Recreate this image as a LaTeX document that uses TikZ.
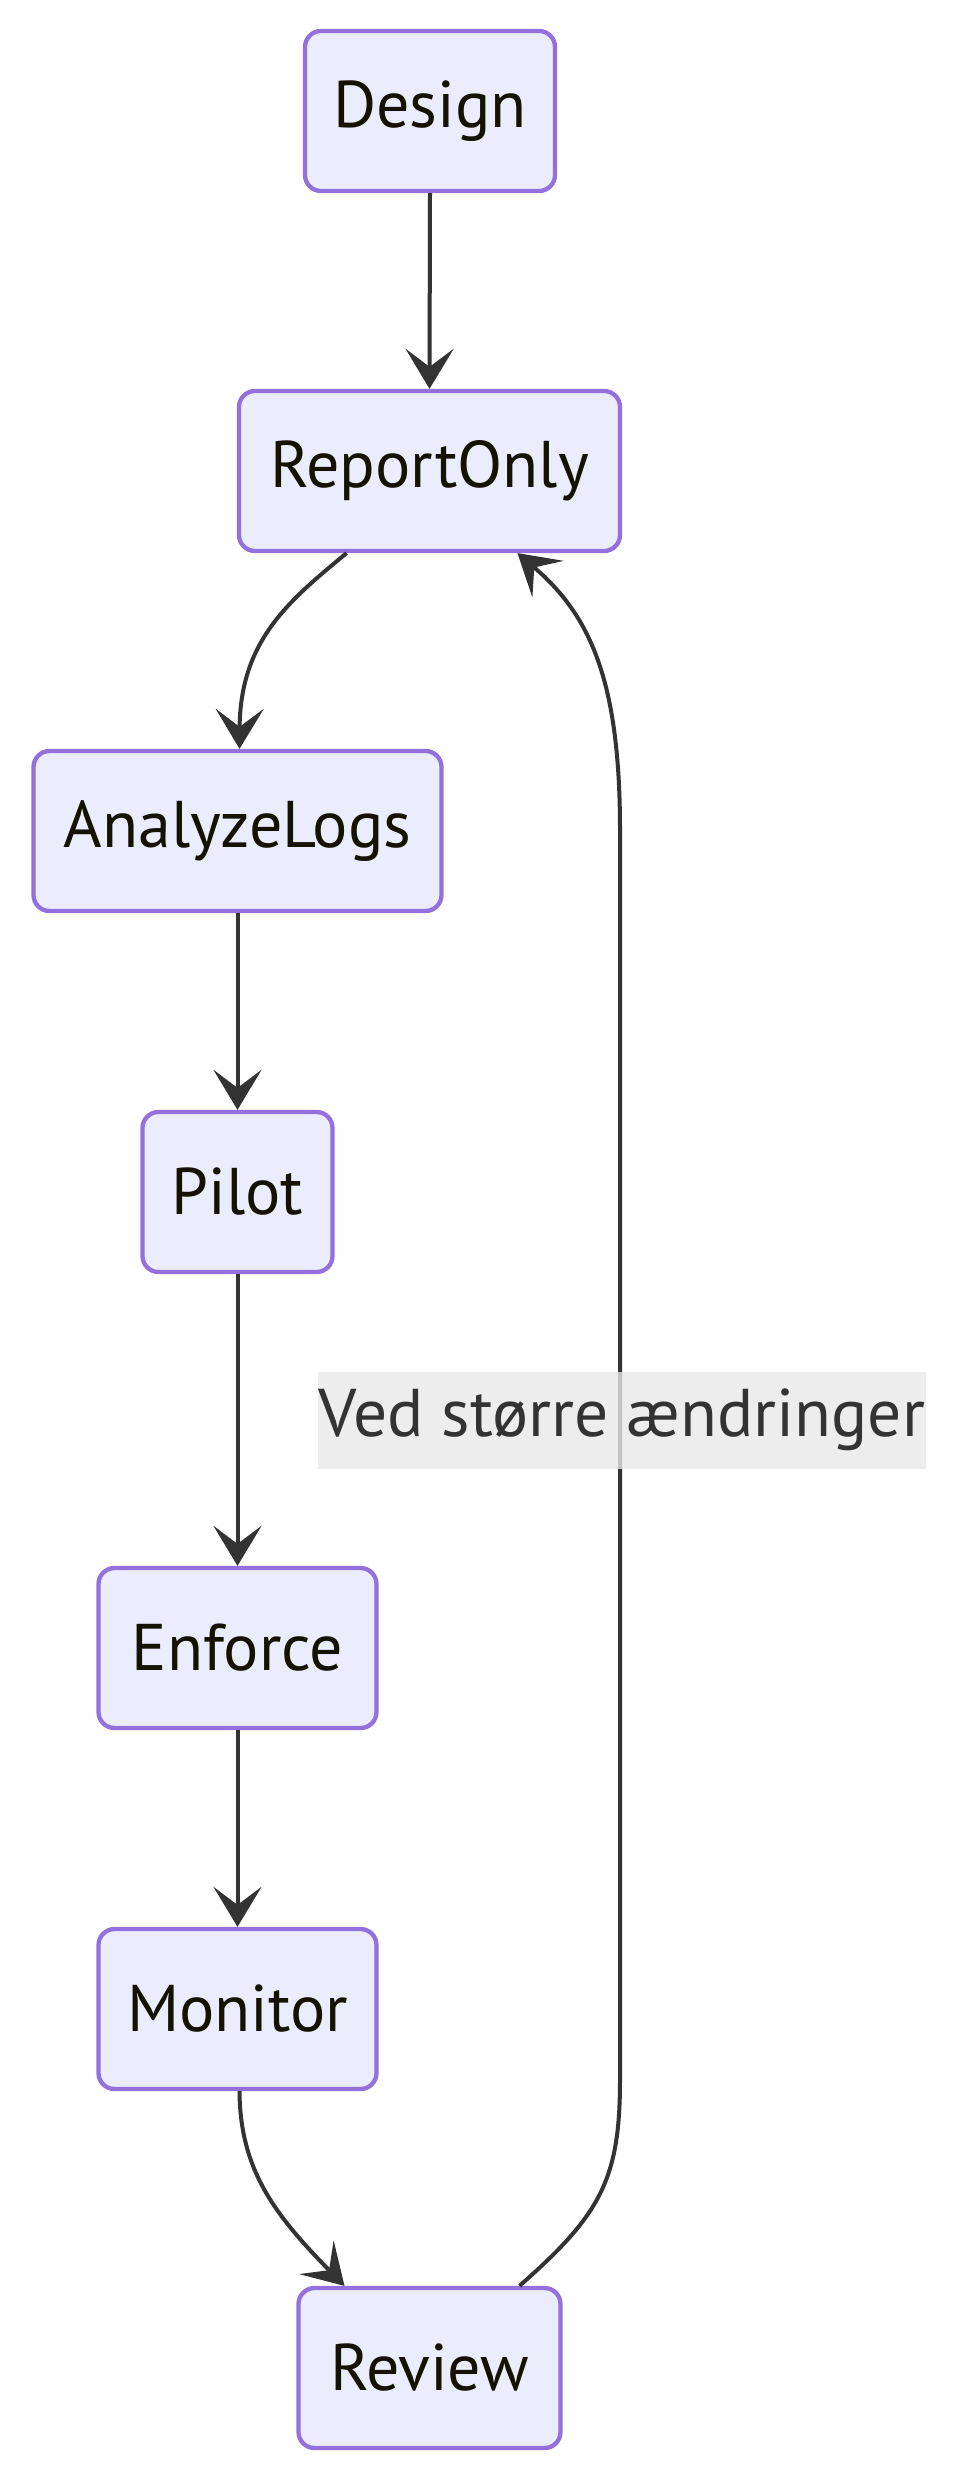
\documentclass[tikz,border=0pt]{standalone}
\usepackage{fontspec}
\setmainfont{PT Sans}
\usetikzlibrary{arrows.meta,calc}
\definecolor{boxfill}{HTML}{ECECFF}
\definecolor{boxline}{HTML}{9370DB}
\definecolor{edgecol}{HTML}{333333}
\definecolor{txtcol}{HTML}{131300}
\definecolor{lblbg}{HTML}{E8E8E8}
\tikzset{
  box/.style={draw=boxline, fill=boxfill, line width=4.3pt, rounded corners=16pt,
    minimum height=160pt, inner sep=0pt, text=txtcol,
    font=\fontsize{66}{74}\selectfont},
  conn/.style={draw=edgecol, line width=4pt,
    -{Stealth[length=40pt, width=48pt, inset=18pt]}},
  lbl/.style={fill=lblbg, fill opacity=0.8, text opacity=1, text=edgecol,
    minimum height=97pt, minimum width=608pt, inner sep=0pt,
    font=\fontsize{67.5}{76}\selectfont},
}
\begin{document}
\begin{tikzpicture}[x=1pt,y=-1pt]
\useasboundingbox (0,0) rectangle (959,2480);
\node[box, minimum width=250pt] (design) at (430,111) {Design};
\node[box, minimum width=381pt] (ro) at (429.5,471) {ReportOnly};
\node[box, minimum width=408pt] (al) at (237.5,831) {AnalyzeLogs};
\node[box, minimum width=190pt] (pilot) at (237.5,1192) {Pilot};
\node[box, minimum width=278pt] (enf) at (237.5,1648) {Enforce};
\node[box, minimum width=278pt] (mon) at (237.5,2009) {Monitor};
\node[box, minimum width=262pt] (rev) at (429.5,2368) {Review};

\draw[conn] (design.south) -- (ro.north);
\draw[conn] ($(ro.south)+(-83,0)$) .. controls (290,600) and (240,640) .. ($(al.north)+(2,0)$);
\draw[conn] (al.south) -- (pilot.north);
\draw[conn] (pilot.south) -- (enf.north);
\draw[conn] (enf.south) -- (mon.north);
\draw[conn] ($(mon.south)+(2,0)$) .. controls (240,2170) and (275,2215) .. ($(rev.north)+(-85,0)$);
\draw[conn] ($(rev.north)+(90,0)$) .. controls (600,2215) and (620,2180) .. (620,2080)
  -- (620,830) .. controls (620,680) and (590,615) .. ($(ro.south)+(88,0)$);

\node[lbl] (lab) at (622,1420) {Ved større ændringer};
\end{tikzpicture}
\end{document}
